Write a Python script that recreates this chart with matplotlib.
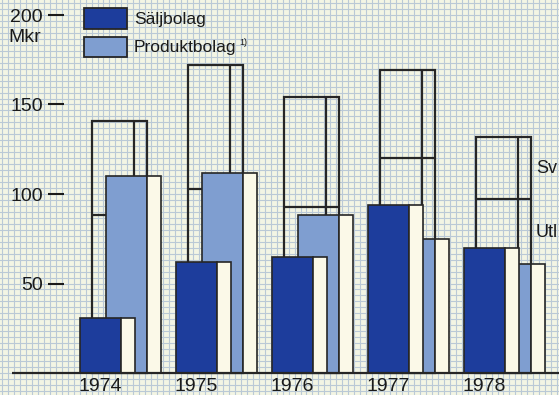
import numpy as np
import matplotlib
matplotlib.use("Agg")
import matplotlib.pyplot as plt
from matplotlib.patches import Rectangle

# --- data (Mkr) ---
years = ["1974", "1975", "1976", "1977", "1978"]
saljbolag = [31, 62, 65, 94, 70]
produktbolag = [110, 112, 88, 75, 61]
utland = [88, 103, 93, 120, 97]
sverige = [53, 69, 61, 49, 35]
y_ticks = [50, 100, 150, 200]

# --- style ---
BG = "#f3f5e4"
GRID = "#bac9d6"
DARK = "#1d3d9c"
LIGHT = "#7f9ed0"
CREAM = "#fbf9e8"
INK = "#262626"
TXT = "#1a1a1a"
FONT = "Liberation Sans"

W, H = 559, 395
PX_PER_UNIT = 1.79      # vertical scale: pixels per Mkr
BASE_PX = 373           # baseline, pixels from top

fig = plt.figure(figsize=(W / 100, H / 100), dpi=100, facecolor=BG)
ax = fig.add_axes([0, 0, 1, 1])
ax.set_facecolor(BG)
ax.set_xlim(0, W)
ax.set_ylim(-(H - BASE_PX) / PX_PER_UNIT, BASE_PX / PX_PER_UNIT)
ax.axis("off")


def yv(px_from_top):
    """Vertical position in Mkr for a pixel row measured from the top."""
    return (BASE_PX - px_from_top) / PX_PER_UNIT


# graph-paper background
step_y = 50 / 15
ylo, yhi = ax.get_ylim()
for gy in np.arange(np.floor(ylo / step_y) * step_y, yhi + step_y, step_y):
    ax.axhline(gy, color=GRID, lw=0.8, zorder=0.5)
for gx in np.arange(2, W + 6, 5.97):
    ax.axvline(gx, color=GRID, lw=0.8, zorder=0.5)

# bar geometry (in pixels along x)
X0, STEP = 80, 96
FRONT, SIDE = 41, 14
OUT_OFF, LIGHT_OFF = 12, 26
idx = np.arange(len(years))
x_dark = X0 + STEP * idx
x_out = x_dark + OUT_OFF
x_light = x_dark + LIGHT_OFF

totals = np.array(utland) + np.array(sverige)

# total per market: outlined box, Utland below the divider, Sverige above
ax.bar(x_out, totals, width=FRONT + SIDE, align="edge", fill=False,
       edgecolor=INK, lw=1.6, zorder=2)
ax.vlines(x_out + FRONT + 1, 0, totals, color=INK, lw=1.6, zorder=2)
ax.hlines(utland, x_out, x_out + FRONT + SIDE, color=INK, lw=1.6, zorder=2)

# Produktbolag
ax.bar(x_light, produktbolag, width=FRONT, align="edge", color=LIGHT,
       edgecolor=INK, lw=1.2, zorder=3)
ax.bar(x_light + FRONT, produktbolag, width=SIDE, align="edge", color=CREAM,
       edgecolor=INK, lw=1.2, zorder=3)

# Säljbolag
ax.bar(x_dark, saljbolag, width=FRONT, align="edge", color=DARK,
       edgecolor=INK, lw=1.2, zorder=4)
ax.bar(x_dark + FRONT, saljbolag, width=SIDE, align="edge", color=CREAM,
       edgecolor=INK, lw=1.2, zorder=4)

# baseline
ax.hlines(0, 12, W, color=INK, lw=1.6, zorder=5)

# year labels
for xd, yr in zip(x_dark, years):
    ax.text(xd + FRONT / 2, yv(391), yr, ha="center", va="baseline",
            fontsize=14, family=FONT, color=TXT, zorder=6)

# y scale: value, dash
for t in y_ticks:
    ax.text(43, t - 7 / PX_PER_UNIT, str(t), ha="right", va="baseline",
            fontsize=14, family=FONT, color=TXT, zorder=6)
    ax.hlines(t, 48, 64, color=TXT, lw=1.5, zorder=6)
ax.text(8, yv(42), "Mkr", ha="left", va="baseline", fontsize=14,
        family=FONT, color=TXT, zorder=6)

# legend
ax.add_patch(Rectangle((84, yv(29)), 43, yv(8) - yv(29), facecolor=DARK,
                       edgecolor=INK, lw=1.3, zorder=6))
ax.add_patch(Rectangle((84, yv(57)), 43, yv(37) - yv(57), facecolor=LIGHT,
                       edgecolor=INK, lw=1.3, zorder=6))
ax.text(134, yv(24), "Säljbolag", ha="left", va="baseline", fontsize=12.5,
        family=FONT, color=TXT, zorder=6)
ax.text(134, yv(52), "Produktbolag", ha="left", va="baseline", fontsize=12.5,
        family=FONT, color=TXT, zorder=6)
ax.text(239, yv(45), "1)", ha="left", va="baseline", fontsize=6.5,
        family=FONT, color=TXT, zorder=6)

# market labels on the right
ax.text(536, yv(173), "Sv", ha="left", va="baseline", fontsize=13,
        family=FONT, color=TXT, zorder=6)
ax.text(536, yv(237), "Utl", ha="left", va="baseline", fontsize=13,
        family=FONT, color=TXT, zorder=6)

fig.savefig("out.png", dpi=100, facecolor=BG)
